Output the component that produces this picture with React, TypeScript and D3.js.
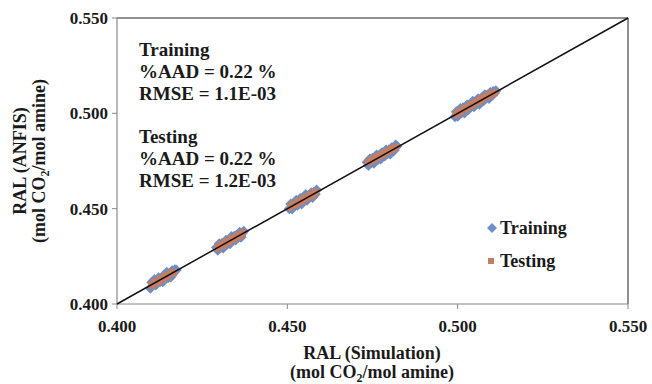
import React from "react";
import * as d3 from "d3";

const ticks = [0.4, 0.45, 0.5, 0.55];
const tickLabels = ["0.400", "0.450", "0.500", "0.550"];

const trainX = [
  0.4098, 0.4102, 0.4106, 0.4110, 0.4114, 0.4118, 0.4122, 0.4126, 0.4130, 0.4134, 0.4138, 0.4142, 0.4146, 0.4150, 0.4154, 0.4158, 0.4162, 0.4166, 0.4170, 0.4174,
  0.4292, 0.4296, 0.4300, 0.4304, 0.4308, 0.4312, 0.4316, 0.4320, 0.4324, 0.4328, 0.4332, 0.4336, 0.4340, 0.4344, 0.4348, 0.4352, 0.4356, 0.4360, 0.4364, 0.4368, 0.4372,
  0.4506, 0.4510, 0.4514, 0.4518, 0.4522, 0.4526, 0.4530, 0.4534, 0.4538, 0.4542, 0.4546, 0.4550, 0.4554, 0.4558, 0.4562, 0.4566, 0.4570, 0.4574, 0.4578, 0.4582, 0.4586,
  0.4734, 0.4738, 0.4742, 0.4746, 0.4750, 0.4754, 0.4758, 0.4762, 0.4766, 0.4770, 0.4774, 0.4778, 0.4782, 0.4786, 0.4790, 0.4794, 0.4798, 0.4802, 0.4806, 0.4810, 0.4814, 0.4818, 0.4822,
  0.4992, 0.4996, 0.5000, 0.5004, 0.5008, 0.5012, 0.5016, 0.5020, 0.5024, 0.5028, 0.5032, 0.5036, 0.5040, 0.5044, 0.5048, 0.5052, 0.5056, 0.5060, 0.5064, 0.5068, 0.5072, 0.5076, 0.5080, 0.5084, 0.5088, 0.5092, 0.5096, 0.5100, 0.5104, 0.5108, 0.5112
];
const trainY = [
  0.4082, 0.4114, 0.4102, 0.4128, 0.4100, 0.4124, 0.4138, 0.4116, 0.4132, 0.4116, 0.4152, 0.4136, 0.4166, 0.4138, 0.4162, 0.4142, 0.4174, 0.4164, 0.4180, 0.4178,
  0.4296, 0.4282, 0.4316, 0.4296, 0.4318, 0.4294, 0.4322, 0.4334, 0.4314, 0.4330, 0.4316, 0.4354, 0.4336, 0.4356, 0.4336, 0.4360, 0.4350, 0.4376, 0.4350, 0.4372, 0.4382,
  0.4500, 0.4524, 0.4498, 0.4526, 0.4518, 0.4544, 0.4518, 0.4538, 0.4554, 0.4524, 0.4556, 0.4542, 0.4574, 0.4544, 0.4568, 0.4564, 0.4584, 0.4558, 0.4586, 0.4576, 0.4598,
  0.4744, 0.4726, 0.4760, 0.4742, 0.4764, 0.4738, 0.4764, 0.4782, 0.4758, 0.4782, 0.4760, 0.4794, 0.4784, 0.4776, 0.4808, 0.4788, 0.4808, 0.4786, 0.4820, 0.4814, 0.4806, 0.4834, 0.4828,
  0.4982, 0.5008, 0.4984, 0.5010, 0.5026, 0.5004, 0.5030, 0.5002, 0.5028, 0.5044, 0.5020, 0.5044, 0.5036, 0.5064, 0.5034, 0.5062, 0.5050, 0.5076, 0.5048, 0.5074, 0.5084, 0.5066, 0.5098, 0.5080, 0.5096, 0.5078, 0.5110, 0.5092, 0.5114, 0.5106, 0.5118
];

const testX = [
  0.4102, 0.4110, 0.4118, 0.4126, 0.4134, 0.4142, 0.4150, 0.4158, 0.4166,
  0.4296, 0.4304, 0.4312, 0.4320, 0.4328, 0.4336, 0.4344, 0.4352, 0.4360, 0.4368,
  0.4510, 0.4518, 0.4526, 0.4534, 0.4542, 0.4550, 0.4558, 0.4566, 0.4574, 0.4582,
  0.4738, 0.4746, 0.4754, 0.4762, 0.4770, 0.4778, 0.4786, 0.4794, 0.4802, 0.4810, 0.4818,
  0.4996, 0.5004, 0.5012, 0.5020, 0.5028, 0.5036, 0.5044, 0.5052, 0.5060, 0.5068, 0.5076, 0.5084, 0.5092, 0.5100, 0.5108
];
const testY = [
  0.4098, 0.4116, 0.4112, 0.4132, 0.4128, 0.4148, 0.4146, 0.4164, 0.4164,
  0.4294, 0.4310, 0.4308, 0.4326, 0.4324, 0.4342, 0.4340, 0.4358, 0.4356, 0.4372,
  0.4508, 0.4524, 0.4522, 0.4540, 0.4538, 0.4556, 0.4554, 0.4572, 0.4570, 0.4588,
  0.4744, 0.4750, 0.4760, 0.4768, 0.4776, 0.4784, 0.4790, 0.4800, 0.4806, 0.4816, 0.4822,
  0.4994, 0.5008, 0.5012, 0.5024, 0.5030, 0.5040, 0.5046, 0.5056, 0.5062, 0.5072, 0.5078, 0.5088, 0.5094, 0.5102, 0.5108
];

const BLUE = "#6D8FC3";
const SALMON = "#C97D60";
const FONT = "Liberation Serif, Times New Roman, DejaVu Serif, serif";

export default function App() {
  const W = 652, H = 384;
  const x = d3.scaleLinear().domain([0.4, 0.55]).range([117, 628]);
  const y = d3.scaleLinear().domain([0.4, 0.55]).range([304, 18]);
  const square = d3.symbol().type(d3.symbolSquare).size(60)();
  const legSquare = d3.symbol().type(d3.symbolSquare).size(50)();
  const tc = "#1a1a1a";

  return (
    <svg width={W} height={H} style={{ position: "absolute", left: 0, top: 0, fontFamily: FONT }}>
      <rect x={0} y={0} width={W} height={H} fill="#fff" />
      <line x1={x(0.4)} x2={x(0.55)} y1={y(0.55)} y2={y(0.55)} stroke="#222" strokeWidth={1} />
      <line x1={x(0.55)} x2={x(0.55)} y1={y(0.55)} y2={y(0.4)} stroke="#222" strokeWidth={1} />
      <line x1={x(0.4)} x2={x(0.4)} y1={y(0.55)} y2={y(0.4)} stroke="#888" strokeWidth={1.2} />
      <line x1={x(0.4)} x2={x(0.55)} y1={y(0.4)} y2={y(0.4)} stroke="#888" strokeWidth={1.2} />
      {ticks.map((t, i) => (
        <g key={"t" + i}>
          <line x1={x(t)} x2={x(t)} y1={y(0.4)} y2={y(0.4) + 5} stroke="#888" />
          <line x1={x(0.4) - 5} x2={x(0.4)} y1={y(t)} y2={y(t)} stroke="#888" />
          <text x={x(t)} y={y(0.4) + 28} textAnchor="middle" fontSize={17} fontWeight="bold" fill={tc}>{tickLabels[i]}</text>
          <text x={x(0.4) - 9} y={y(t) + 6} textAnchor="end" fontSize={17} fontWeight="bold" fill={tc}>{tickLabels[i]}</text>
        </g>
      ))}
      {trainX.map((v, i) => (
        <path key={"tr" + i} d={square!} transform={`translate(${x(v)},${y(trainY[i])}) rotate(45)`} fill={BLUE} />
      ))}
      {testX.map((v, i) => (
        <rect key={"te" + i} x={x(v) - 3.5} y={y(testY[i]) - 3.5} width={7} height={7} fill={SALMON} />
      ))}
      <line x1={x(0.4)} y1={y(0.4)} x2={x(0.55)} y2={y(0.55)} stroke="#111" strokeWidth={1.5} />
      <g fontSize={19} fontWeight="bold" fill={tc}>
        <text x={139} y={56}>Training</text>
        <text x={139} y={78}>%AAD = 0.22 %</text>
        <text x={139} y={100}>RMSE = 1.1E-03</text>
        <text x={139} y={143}>Testing</text>
        <text x={139} y={165}>%AAD = 0.22 %</text>
        <text x={139} y={187}>RMSE = 1.2E-03</text>
      </g>
      <path d={legSquare!} transform="translate(492,228) rotate(45)" fill={BLUE} />
      <text x={500} y={234} fontSize={18} fontWeight="bold" fill={tc}>Training</text>
      <rect x={488} y={258} width={6} height={6} fill={SALMON} />
      <text x={500} y={267} fontSize={18} fontWeight="bold" fill={tc}>Testing</text>
      <text x={372} y={359} textAnchor="middle" fontSize={18} fontWeight="bold" fill={tc}>RAL (Simulation)</text>
      <text x={372} y={378} textAnchor="middle" fontSize={18} fontWeight="bold" fill={tc}>
        (mol CO<tspan fontSize={12} dy={4}>2</tspan><tspan dy={-4}>/mol amine)</tspan>
      </text>
      <g transform="translate(26,161) rotate(-90)">
        <text x={0} y={0} textAnchor="middle" fontSize={18} fontWeight="bold" fill={tc}>RAL (ANFIS)</text>
        <text x={0} y={19} textAnchor="middle" fontSize={18} fontWeight="bold" fill={tc}>
          (mol CO<tspan fontSize={12} dy={4}>2</tspan><tspan dy={-4}>/mol amine)</tspan>
        </text>
      </g>
    </svg>
  );
}
